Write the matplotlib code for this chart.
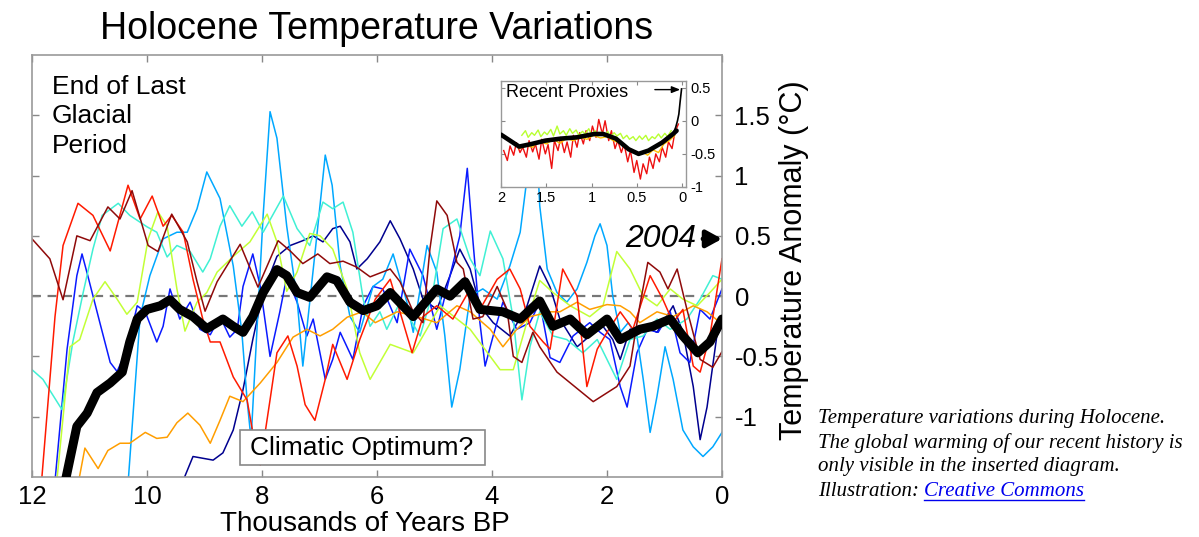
import numpy as np
import matplotlib
matplotlib.use("Agg")
import matplotlib.pyplot as plt
from matplotlib.lines import Line2D
from matplotlib.patches import Rectangle

plt.rcParams['font.family'] = ['Liberation Sans', 'DejaVu Sans']

# ---------------- data (thousands of years BP, anomaly °C) ----------------
navy_x = [9.51, 9.2, 8.85, 8.68, 8.5, 8.33, 8.16, 7.98, 7.74, 7.51, 7.29, 7.11, 6.94, 6.77, 6.64, 6.47, 6.35, 6.17, 5.95, 5.77, 5.6, 5.37, 5.2, 4.96, 4.73, 4.56, 4.38, 4.21, 3.98, 3.69, 3.39, 3.17, 2.99, 2.82, 2.52, 2.3, 2.07, 1.9, 1.77, 1.6, 1.37, 1.13, 0.85, 0.68, 0.5, 0.38, 0.26, 0.09, 0.0]
navy_y = [-1.69, -1.33, -1.36, -1.3, -1.11, -0.775, -0.36, 0.03, 0.33, 0.42, 0.46, 0.5, 0.45, 0.56, 0.58, 0.45, 0.225, 0.31, 0.45, 0.625, 0.475, 0.225, -0.025, -0.11, 0.17, 0.39, 0.225, -0.08, -0.22, -0.33, -0.08, 0.25, 0.075, -0.19, -0.42, -0.33, -0.25, -0.36, -0.525, -0.275, -0.25, -0.3, -0.08, -0.3, -0.75, -1.19, -0.92, -0.33, -0.25]

blue_x = [11.63, 11.39, 11.22, 11.13, 11.03, 10.82, 10.64, 10.52, 10.35, 10.17, 10.03, 9.83, 9.72, 9.6, 9.43, 9.25, 9.08, 8.9, 8.73, 8.56, 8.43, 8.33, 8.16, 8.03, 7.86, 7.69, 7.57, 7.39, 7.22, 7.11, 6.9, 6.77, 6.64, 6.42, 6.24, 6.07, 5.9, 5.65, 5.43, 5.2, 4.96, 4.73, 4.56, 4.43, 4.33, 4.21, 4.12, 3.98, 3.81, 3.57, 3.34, 3.17, 2.99, 2.82, 2.59, 2.3, 2.12, 1.95, 1.77, 1.65, 1.48, 1.3, 1.11, 0.9, 0.73, 0.56, 0.38, 0.21, 0.0]
blue_y = [-1.69, -0.44, 0.17, 0.35, 0.17, -0.22, -0.55, -0.625, -0.44, -0.08, -0.13, -0.38, -0.25, 0.06, -0.19, -0.05, -0.275, -0.32, -0.17, -0.34, -0.275, 0.08, 0.35, 0.08, -0.5, -0.13, 0.16, -0.05, -0.33, -0.19, -0.69, -0.525, -0.3, -0.525, -0.08, 0.08, 0.06, -0.22, 0.39, 0.17, -0.275, 0.17, 0.5, 1.06, 0.45, -0.22, -0.58, -0.33, -0.05, -0.275, -0.22, -0.05, -0.51, -0.55, -0.33, -0.22, -0.3, -0.36, -0.75, -0.92, -0.47, -0.275, -0.3, -0.13, -0.47, -0.55, -0.11, -0.19, 0.06]

lightblue_x = [10.35, 10.12, 9.95, 9.72, 9.48, 9.3, 9.13, 8.96, 8.73, 8.5, 8.35, 8.26, 8.19, 8.09, 7.98, 7.86, 7.74, 7.57, 7.39, 7.29, 7.17, 7.04, 6.9, 6.78, 6.64, 6.47, 6.3, 6.07, 5.9, 5.72, 5.48, 5.37, 5.13, 4.96, 4.82, 4.7, 4.56, 4.38, 4.16, 3.91, 3.69, 3.51, 3.37, 3.27, 3.17, 3.04, 2.87, 2.7, 2.52, 2.35, 2.21, 2.12, 2.0, 1.9, 1.77, 1.63, 1.48, 1.37, 1.25, 1.13, 0.99, 0.85, 0.68, 0.5, 0.33, 0.16, 0.0]
lightblue_y = [-1.69, -0.17, 0.17, 0.475, 0.53, 0.53, 0.725, 1.03, 0.81, 0.25, -0.3, -0.86, -1.19, -0.3, 0.67, 1.53, 1.31, 0.58, -0.025, -0.58, -0.05, 0.53, 1.17, 0.92, 0.25, -0.17, -0.3, 0.08, 0.14, 0.35, -0.05, -0.3, 0.42, 0.2, -0.33, -0.92, -0.61, 0.0, 0.06, -0.025, 0.25, 0.53, 1.06, 1.72, 0.75, 0.225, 0.03, -0.05, 0.06, 0.28, 0.5, 0.6, 0.42, 0.0, -0.3, -0.22, -0.33, -0.69, -1.13, -0.83, -0.42, -0.69, -1.11, -1.25, -1.33, -1.25, -1.13]

aqua_x = [12.0, 11.81, 11.48, 11.29, 11.11, 10.94, 10.78, 10.5, 10.3, 10.0, 9.83, 9.65, 9.48, 9.25, 9.03, 8.9, 8.73, 8.56, 8.35, 8.17, 7.98, 7.63, 7.39, 7.17, 6.94, 6.77, 6.59, 6.42, 6.24, 6.12, 5.95, 5.83, 5.6, 5.25, 5.03, 4.85, 4.61, 4.38, 4.21, 4.03, 3.81, 3.63, 3.48, 3.34, 3.17, 2.94, 2.7, 2.42, 2.17, 1.83, 1.6, 1.37, 1.13, 0.9, 0.61, 0.38, 0.16, 0.0]
aqua_y = [-0.61, -0.69, -0.94, -0.38, 0.03, 0.39, 0.67, 0.77, 0.67, 0.575, 0.53, 0.325, 0.42, 0.37, 0.2, 0.31, 0.58, 0.75, 0.58, 0.7, 0.53, 0.83, 0.56, 0.42, 0.78, 0.725, 0.78, 0.53, -0.025, -0.25, -0.13, -0.275, -0.05, -0.33, 0.03, 0.56, 0.64, 0.31, 0.17, 0.54, 0.31, -0.19, -0.86, -0.42, -0.13, -0.33, -0.36, -0.47, -0.36, -0.69, -0.36, -0.33, -0.19, -0.275, -0.19, -0.025, 0.17, 0.14]

ygreen_x = [11.6, 11.34, 11.17, 10.94, 10.73, 10.52, 10.35, 10.17, 9.98, 9.81, 9.65, 9.48, 9.34, 9.13, 8.96, 8.78, 8.5, 8.21, 7.91, 7.74, 7.57, 7.39, 7.17, 6.99, 6.77, 6.52, 6.3, 6.12, 5.77, 5.37, 4.9, 4.38, 3.86, 3.63, 3.34, 3.17, 2.94, 2.64, 2.3, 2.07, 1.83, 1.6, 1.37, 1.13, 0.9, 0.68, 0.43, 0.21, 0.0]
ygreen_y = [-1.69, -0.42, -0.36, -0.025, 0.12, -0.025, -0.15, -0.05, 0.475, 0.7, 0.58, 0.06, -0.29, -0.05, 0.03, 0.2, 0.33, 0.45, 0.68, 0.45, 0.04, 0.2, 0.52, 0.5, 0.39, 0.06, -0.47, -0.69, -0.4, -0.47, -0.08, -0.275, -0.61, -0.61, -0.13, 0.13, 0.03, -0.08, -0.17, -0.08, 0.37, 0.225, 0.0, -0.08, 0.06, -0.025, -0.08, 0.03, 0.14]

orange_x = [11.25, 11.08, 10.85, 10.68, 10.47, 10.3, 10.03, 9.83, 9.65, 9.48, 9.29, 9.08, 8.9, 8.73, 8.56, 8.33, 8.03, 7.74, 7.46, 7.22, 6.99, 6.77, 6.52, 6.26, 6.03, 5.65, 5.3, 4.96, 4.61, 4.38, 4.03, 3.81, 3.57, 3.34, 2.99, 2.82, 2.52, 2.3, 2.0, 1.77, 1.6, 1.43, 1.13, 0.85, 0.5, 0.26, 0.03]
orange_y = [-1.69, -1.26, -1.43, -1.28, -1.22, -1.22, -1.13, -1.18, -1.17, -1.05, -0.97, -1.07, -1.22, -1.03, -0.83, -0.875, -0.72, -0.55, -0.34, -0.275, -0.33, -0.275, -0.175, -0.13, -0.22, -0.13, -0.17, -0.22, -0.08, -0.13, -0.275, -0.42, -0.275, -0.17, -0.13, -0.13, -0.05, -0.11, -0.07, -0.08, -0.13, -0.22, -0.13, -0.17, -0.08, -0.13, -0.22]

red_x = [11.86, 11.6, 11.46, 11.2, 10.94, 10.64, 10.33, 10.12, 9.91, 9.72, 9.57, 9.37, 9.2, 9.03, 8.9, 8.73, 8.5, 8.26, 8.16, 8.03, 7.86, 7.74, 7.55, 7.39, 7.25, 7.08, 6.9, 6.77, 6.52, 6.3, 6.03, 5.77, 5.6, 5.39, 5.2, 4.96, 4.68, 4.38, 4.21, 3.91, 3.69, 3.51, 3.34, 3.11, 2.99, 2.77, 2.52, 2.35, 2.17, 2.0, 1.77, 1.55, 1.25, 1.03, 0.85, 0.68, 0.5, 0.38, 0.21, 0.0]
red_y = [-1.69, -0.17, 0.42, 0.77, 0.67, 0.375, 0.92, 0.64, 0.83, 0.58, 0.67, 0.53, 0.14, -0.19, -0.38, -0.38, -0.67, -0.86, -1.13, -1.4, -0.86, -0.47, -0.33, -0.58, -0.9, -1.03, -0.69, -0.4, -0.69, -0.36, -0.025, 0.14, -0.13, -0.47, -0.17, -0.08, -0.19, 0.06, -0.11, 0.14, 0.225, 0.06, -0.25, -0.38, -0.44, 0.225, 0.0, -0.75, -0.44, -0.3, -0.13, -0.275, 0.17, -0.025, -0.22, -0.11, -0.58, -0.63, -0.33, 0.31]

darkred_x = [12.0, 11.69, 11.46, 11.22, 10.99, 10.68, 10.47, 10.26, 9.98, 9.81, 9.57, 9.3, 9.13, 8.99, 8.78, 8.38, 8.07, 7.72, 7.51, 7.29, 7.03, 6.82, 6.59, 6.35, 6.12, 5.77, 5.6, 5.37, 5.2, 5.08, 4.96, 4.78, 4.61, 4.5, 4.33, 4.16, 3.91, 3.74, 3.63, 3.48, 3.29, 3.17, 2.87, 2.24, 1.83, 1.6, 1.43, 1.29, 1.08, 0.94, 0.78, 0.61, 0.38, 0.16, 0.0]
darkred_y = [0.475, 0.31, -0.03, 0.5, 0.46, 0.74, 0.64, 0.875, 0.42, 0.37, 0.68, 0.45, 0.12, -0.125, 0.12, 0.43, 0.075, 0.46, 0.375, 0.27, 0.35, 0.27, 0.29, 0.24, 0.16, 0.225, 0.12, -0.13, -0.22, 0.39, 0.79, 0.67, 0.28, 0.225, -0.19, -0.17, 0.08, -0.11, -0.5, -0.55, -0.3, -0.42, -0.63, -0.875, -0.75, -0.58, -0.08, 0.28, 0.2, 0.06, 0.225, -0.11, -0.525, -0.59, -0.46]

mean_x = [11.45, 11.22, 11.04, 10.87, 10.64, 10.43, 10.3, 10.17, 10.0, 9.77, 9.6, 9.43, 9.2, 8.96, 8.68, 8.5, 8.33, 8.16, 7.98, 7.74, 7.57, 7.39, 7.17, 6.87, 6.7, 6.47, 6.24, 6.0, 5.77, 5.37, 4.96, 4.73, 4.47, 4.21, 3.81, 3.51, 3.17, 2.94, 2.64, 2.35, 2.0, 1.77, 1.43, 1.2, 0.9, 0.68, 0.42, 0.21, 0.0]
mean_y = [-1.6, -1.08, -0.97, -0.8, -0.72, -0.63, -0.38, -0.19, -0.11, -0.08, -0.03, -0.11, -0.17, -0.27, -0.19, -0.25, -0.3, -0.17, 0.03, 0.22, 0.17, 0.03, -0.01, 0.16, 0.13, -0.05, -0.12, -0.08, 0.03, -0.17, 0.06, 0.0, 0.12, -0.11, -0.13, -0.19, -0.04, -0.25, -0.19, -0.32, -0.19, -0.36, -0.275, -0.25, -0.19, -0.33, -0.47, -0.38, -0.19]

series_names = ['navy', 'blue', 'lightblue', 'aqua', 'ygreen', 'orange', 'red', 'darkred']

# inset: recent proxies (thousands of years BP)
rp_red_x = [1.97, 1.93, 1.90, 1.86, 1.83, 1.79, 1.76, 1.72, 1.69, 1.65, 1.62, 1.58, 1.55, 1.51, 1.48, 1.44, 1.41, 1.37, 1.34, 1.30, 1.27, 1.23, 1.20, 1.16, 1.13, 1.09, 1.06, 1.02, 0.99, 0.95, 0.92, 0.88, 0.85, 0.81, 0.78, 0.74, 0.71, 0.67, 0.64, 0.60, 0.57, 0.53, 0.50, 0.46, 0.43, 0.39, 0.36, 0.32, 0.29, 0.25, 0.22, 0.18, 0.15, 0.11, 0.08, 0.04]
rp_red_y = [-0.45, -0.60, -0.38, -0.52, -0.33, -0.48, -0.40, -0.55, -0.30, -0.47, -0.35, -0.58, -0.28, -0.50, -0.36, -0.72, -0.30, -0.45, -0.25, -0.48, -0.32, -0.55, -0.22, -0.40, -0.18, -0.35, -0.15, -0.30, -0.08, -0.25, 0.02, -0.20, 0.00, -0.30, -0.15, -0.42, -0.30, -0.48, -0.35, -0.62, -0.45, -0.78, -0.60, -0.88, -0.65, -0.80, -0.55, -0.72, -0.50, -0.62, -0.40, -0.55, -0.32, -0.42, -0.18, -0.05]
rp_yg_x = [1.77, 1.73, 1.70, 1.66, 1.63, 1.59, 1.56, 1.52, 1.49, 1.45, 1.42, 1.38, 1.35, 1.31, 1.28, 1.24, 1.21, 1.17, 1.14, 1.10, 1.07, 1.03, 1.00, 0.96, 0.93, 0.89, 0.86, 0.82, 0.79, 0.75, 0.72, 0.68, 0.65, 0.61, 0.58, 0.54, 0.51, 0.47, 0.44, 0.40, 0.37, 0.33, 0.30, 0.26, 0.23, 0.19, 0.16, 0.12]
rp_yg_y = [-0.22, -0.15, -0.25, -0.18, -0.22, -0.14, -0.24, -0.17, -0.21, -0.13, -0.23, -0.08, -0.20, -0.15, -0.22, -0.12, -0.19, -0.14, -0.22, -0.16, -0.20, -0.12, -0.21, -0.15, -0.23, -0.17, -0.24, -0.16, -0.25, -0.18, -0.23, -0.19, -0.27, -0.22, -0.28, -0.24, -0.30, -0.23, -0.28, -0.22, -0.30, -0.24, -0.27, -0.20, -0.26, -0.19, -0.24, -0.15]
rp_gold_x = [1.80, 1.72, 1.65, 1.58, 1.50, 1.42, 1.35, 1.28, 1.20, 1.12, 1.05, 0.98, 0.90, 0.83, 0.76, 0.70, 0.63, 0.56, 0.50, 0.44, 0.38, 0.32, 0.26, 0.20, 0.14, 0.08]
rp_gold_y = [-0.42, -0.38, -0.40, -0.30, -0.35, -0.28, -0.34, -0.27, -0.30, -0.25, -0.28, -0.22, -0.26, -0.24, -0.30, -0.33, -0.40, -0.45, -0.50, -0.47, -0.52, -0.44, -0.48, -0.35, -0.30, -0.22]
rp_mean_x = [2.0, 1.9, 1.8, 1.66, 1.51, 1.34, 1.16, 0.97, 0.87, 0.73, 0.59, 0.48, 0.37, 0.22, 0.10, 0.06]
rp_mean_y = [-0.21, -0.30, -0.39, -0.35, -0.30, -0.27, -0.25, -0.20, -0.20, -0.27, -0.43, -0.50, -0.45, -0.33, -0.20, -0.15]
instr_x = [0.10, 0.07, 0.05, 0.035, 0.02, 0.005]
instr_y = [-0.20, -0.10, 0.00, 0.10, 0.30, 0.48]

colors = {'navy': '#00008f', 'blue': '#0a1aff', 'lightblue': '#00a8ff',
          'aqua': '#40f0d4', 'ygreen': '#c2ff36', 'orange': '#ff9e00',
          'red': '#ff1a00', 'darkred': '#8f0a0a'}
series = {'navy': (navy_x, navy_y), 'blue': (blue_x, blue_y),
          'lightblue': (lightblue_x, lightblue_y), 'aqua': (aqua_x, aqua_y),
          'ygreen': (ygreen_x, ygreen_y), 'orange': (orange_x, orange_y),
          'red': (red_x, red_y), 'darkred': (darkred_x, darkred_y)}

W, H = 1199, 537
fig = plt.figure(figsize=(W / 100, H / 100), dpi=100)
fig.patch.set_facecolor('white')

ax = fig.add_axes([32 / W, 1 - 477 / H, 690 / W, 422 / H])
for name in series_names:
    xs, ys = series[name]
    ax.plot(xs, ys, color=colors[name], lw=1.1, solid_joinstyle='round', zorder=2)
ax.axhline(0, color='#777777', lw=1.6, ls=(0, (4, 3)), zorder=1)
ax.plot(mean_x, mean_y, color='black', lw=6.5, solid_joinstyle='round',
        solid_capstyle='round', zorder=4)

ax.set_xlim(12, 0)
ax.set_ylim(-1.5, 2.0)
ax.set_xticks([12, 10, 8, 6, 4, 2, 0])
ax.set_xticklabels(['12', '10', '8', '6', '4', '2', '0'])
ax.set_yticks([-1, -0.5, 0, 0.5, 1, 1.5])
ax.set_yticklabels(['-1', '-0.5', '0', '0.5', '1', '1.5'])
ax.tick_params(direction='in', length=5, width=1, color='#888888',
               top=True, right=True, left=True, bottom=True,
               labelleft=False, labelright=True, labelsize=19)
ax.tick_params(axis='y', pad=9, labelsize=18.5)
ax.tick_params(axis='x', pad=6, labelsize=18.5)
for s in ax.spines.values():
    s.set_color('#999999')
    s.set_linewidth(1.2)

# texts
fig.text(377 / W, 1 - 29 / H, 'Holocene Temperature Variations', ha='center',
         va='center', fontsize=27)
fig.text(365 / W, 1 - 524 / H, 'Thousands of Years BP', ha='center',
         va='center', fontsize=20)
fig.text(794 / W, 1 - 260 / H, 'Temperature Anomaly (°C)', ha='center',
         va='center', rotation=90, fontsize=22)
fig.text(52 / W, 1 - 75 / H, 'End of Last\nGlacial\nPeriod', ha='left',
         va='top', fontsize=19, linespacing=1.28)
fig.add_artist(Rectangle((240 / W, 1 - 465 / H), 245 / W, 35 / H,
                         transform=fig.transFigure, fc='white', ec='#888888',
                         lw=1.2, zorder=5))
fig.text(362 / W, 1 - 448 / H, 'Climatic Optimum?', ha='center', va='center',
         fontsize=19, zorder=6)
ax.annotate('2004', xy=(0.0, 0.475), xytext=(0.45, 0.475), ha='right',
            va='center', fontsize=23, style='italic',
            arrowprops=dict(arrowstyle='-|>,head_length=0.4,head_width=0.22',
                            color='black', lw=3.5, shrinkA=3, shrinkB=0))

# inset
ai = fig.add_axes([501 / W, 1 - 187 / H, 185 / W, 106 / H])
ai.set_facecolor('white')
ai.plot(rp_red_x, rp_red_y, color='#ee1010', lw=1.0, zorder=2)
ai.plot(rp_gold_x, rp_gold_y, color='#ffc000', lw=1.0, zorder=2)
ai.plot(rp_yg_x, rp_yg_y, color='#b8ff30', lw=1.0, zorder=2)
ai.plot(rp_mean_x, rp_mean_y, color='black', lw=3.3, solid_capstyle='round',
        solid_joinstyle='round', zorder=4)
ai.plot(instr_x, instr_y, color='black', lw=1.2, zorder=4)
ai.annotate('', xy=(0.02, 0.47), xytext=(0.30, 0.47),
            arrowprops=dict(arrowstyle='-|>,head_length=0.5,head_width=0.2',
                            color='black', lw=1.0, shrinkA=0, shrinkB=0))
ai.text(1.94, 0.43, 'Recent Proxies', ha='left', va='center', fontsize=13)
ai.set_xlim(2, -0.044)
ai.set_ylim(-1, 0.6)
ai.set_xticks([2, 1.5, 1, 0.5, 0])
ai.set_xticklabels(['2', '1.5', '1', '0.5', '0'])
ai.set_yticks([-1, -0.5, 0, 0.5])
ai.set_yticklabels(['-1', '-0.5', '0', '0.5'])
ai.tick_params(direction='in', length=3, color='#888888', top=True,
               right=True, left=True, bottom=True, labelleft=False,
               labelright=True, labelsize=10.5, pad=3)
for s in ai.spines.values():
    s.set_color('#999999')
    s.set_linewidth(1.0)

# caption
cap_lines = ['Temperature variations during Holocene.',
             'The global warming of our recent history is',
             'only visible in the inserted diagram.']
cap_y = [418, 443, 467]
for t, yy in zip(cap_lines, cap_y):
    fig.text(818 / W, 1 - yy / H, t, ha='left', va='center', fontsize=15,
             family='Liberation Serif', style='italic')
t_ill = fig.text(818 / W, 1 - 492 / H, 'Illustration: ', ha='left',
                 va='center', fontsize=15, family='Liberation Serif',
                 style='italic')
fig.canvas.draw()
r = fig.canvas.get_renderer()
bb = t_ill.get_window_extent(r)
t_cc = fig.text(bb.x1 / W, 1 - 492 / H, 'Creative Commons', ha='left',
                va='center', fontsize=15, family='Liberation Serif',
                style='italic', color='#0000ee')
fig.canvas.draw()
bb2 = t_cc.get_window_extent(r)
uy = bb2.y0 + 2
fig.add_artist(Line2D([bb2.x0 / W, bb2.x1 / W], [uy / H, uy / H],
                      transform=fig.transFigure, color='#0000ee', lw=1.0))

fig.savefig('out.png', dpi=100, facecolor='white')
